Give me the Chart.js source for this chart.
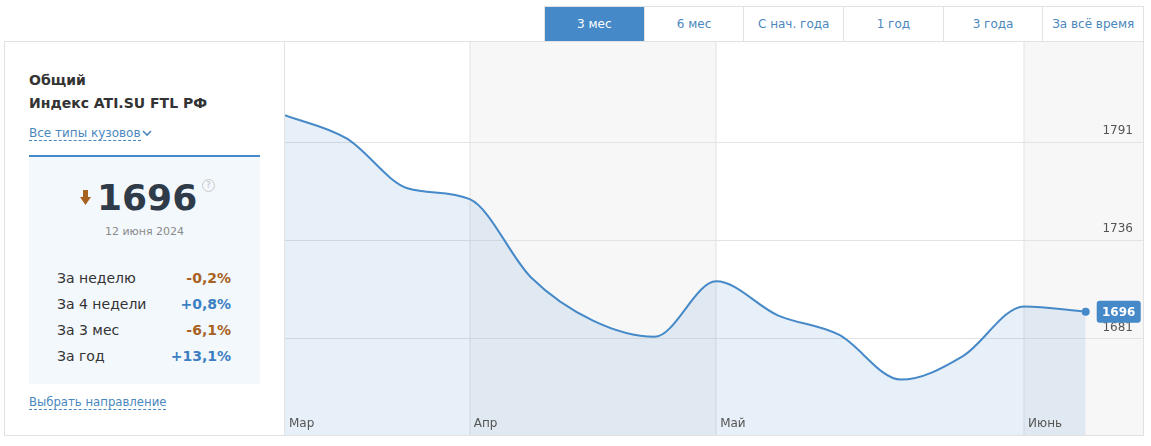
<!DOCTYPE html>
<html lang="ru">
<head>
<meta charset="utf-8">
<script src="https://cdn.jsdelivr.net/npm/chart.js@4"></script>
<style>
  html, body { margin:0; padding:0; background:#fff; font-family:"DejaVu Sans", Verdana, sans-serif; }
  .frame { position:absolute; left:4px; top:41px; width:1140px; height:395px; border:1px solid #e2e2e2; box-sizing:border-box; }
  .panel { position:absolute; left:5px; top:42px; width:280px; height:393px; border-right:1px solid #e2e2e2; box-sizing:border-box; }
  .tabs { position:absolute; left:544px; top:6px; height:35px; display:flex; border:1px solid #e2e2e2; border-bottom:none; box-sizing:border-box; width:600px; }
  .tab { width:100px; height:35px; line-height:34px; text-align:center; font-size:12px; color:#4b87bd; border-right:1px solid #e2e2e2; box-sizing:border-box; }
  .tab:last-child { border-right:none; }
  .tab.active { background:#4689c8; color:#fff; }
  .t1 { position:absolute; left:24px; font-weight:bold; font-size:14px; color:#333; }
  .link { position:absolute; left:24px; font-size:12px; color:#4b87bd; line-height:14px; }
  .link span.u { border-bottom:1px dashed #4b87bd; }
  .box { position:absolute; left:24px; top:113px; width:231px; height:229px; background:#f3f8fd; border-top:2px solid #4689c8; box-sizing:border-box; }
  .big { position:absolute; left:68px; top:19px; font-size:36px; font-weight:bold; color:#2f3b48; line-height:44px; }
  .arrow { position:absolute; left:51px; top:33px; width:11px; height:16px; }
  .q { position:absolute; left:173px; top:22px; width:11px; height:11px; border:1px solid #c8c8c8; border-radius:50%; font-size:9px; color:#bbb; text-align:center; line-height:11px; }
  .date { position:absolute; left:0; width:231px; top:68px; text-align:center; font-size:11px; color:#8a8a8a; }
  .row { position:absolute; left:28px; width:174px; font-size:14px; color:#333; }
  .row b { position:absolute; right:0; top:0; font-weight:bold; }
  .dn { color:#a8621f; }
  .up { color:#3d80c2; }
  #wrap { position:absolute; left:285px; top:42px; width:858px; height:393px; }
</style>
</head>
<body>
<div class="tabs">
  <div class="tab active">3 мес</div>
  <div class="tab">6 мес</div>
  <div class="tab">С нач. года</div>
  <div class="tab">1 год</div>
  <div class="tab">3 года</div>
  <div class="tab">За всё время</div>
</div>
<div class="frame"></div>
<div class="panel">
  <div class="t1" style="top:30px">Общий</div>
  <div class="t1" style="top:53px">Индекс ATI.SU FTL РФ</div>
  <div class="link" style="top:84px"><span class="u">Все типы кузовов</span><svg width="10" height="8" viewBox="0 0 10 8" style="margin-left:1px"><polyline points="1,2 5,6 9,2" fill="none" stroke="#4b87bd" stroke-width="1.6"/></svg></div>
  <div class="box">
    <svg class="arrow" viewBox="0 0 11 16"><rect x="3" y="0" width="5" height="8" fill="#a8621f"/><polygon points="0,7 11,7 5.5,15" fill="#a8621f"/></svg>
    <div class="big">1696</div>
    <div class="q">?</div>
    <div class="date">12 июня 2024</div>
    <div class="row" style="top:113px">За неделю<b class="dn">-0,2%</b></div>
    <div class="row" style="top:139px">За 4 недели<b class="up">+0,8%</b></div>
    <div class="row" style="top:165px">За 3 мес<b class="dn">-6,1%</b></div>
    <div class="row" style="top:191px">За год<b class="up">+13,1%</b></div>
  </div>
  <div class="link" style="top:353px;font-size:11.7px"><span class="u">Выбрать направление</span></div>
</div>
<div id="wrap"><canvas id="chart"></canvas></div>
<script>
// weekly index values, ~1 Mar – 12 Jun 2024
const values = [1806, 1793, 1765, 1759, 1715, 1691, 1682, 1713, 1694, 1683, 1658, 1671, 1699, 1696];
const monthNames = ['Мар', 'Апр', 'Май', 'Июнь'];
const monthStart = [0, 3, 7, 12];   // week index where each month begins
const yTicks = [1681, 1736, 1791];

const blue = '#4689c8';
const lastIdx = values.length - 1;

const monthBands = {
  id: 'monthBands',
  beforeDraw(chart) {
    const {ctx, chartArea: a, scales: {x}} = chart;
    ctx.save();
    monthStart.forEach((m, i) => {
      const x0 = x.getPixelForValue(m);
      const x1 = i + 1 < monthStart.length ? x.getPixelForValue(monthStart[i + 1]) : a.right;
      if (i % 2 === 1) {
        ctx.fillStyle = '#f7f7f7';
        ctx.fillRect(x0, a.top, x1 - x0, a.bottom - a.top);
      }
      if (i > 0) {
        ctx.fillStyle = '#e3e3e3';
        ctx.fillRect(Math.round(x0) - 0.5, a.top, 1, a.bottom - a.top);
      }
    });
    ctx.restore();
  },
  afterDatasetsDraw(chart) {
    const {ctx, chartArea: a, scales: {x, y}} = chart;
    ctx.save();
    ctx.font = '12px "DejaVu Sans"';
    ctx.fillStyle = '#555';
    ctx.textBaseline = 'alphabetic';
    monthStart.forEach((m, i) => {
      ctx.fillText(monthNames[i], x.getPixelForValue(m) + 4, a.bottom - 8);
    });
    // y labels sit above their grid lines, at the right edge
    ctx.textAlign = 'right';
    yTicks.forEach(v => {
      ctx.fillText(String(v), a.right - 10, y.getPixelForValue(v) - 8);
    });
    // last value badge
    const pt = chart.getDatasetMeta(0).data[lastIdx];
    const bx = pt.x + 11, by = pt.y - 11, bw = 44, bh = 22;
    ctx.fillStyle = blue;
    ctx.beginPath();
    ctx.roundRect(bx, by, bw, bh, 3);
    ctx.fill();
    ctx.fillStyle = '#fff';
    ctx.font = 'bold 12px "DejaVu Sans"';
    ctx.textAlign = 'center';
    ctx.textBaseline = 'middle';
    ctx.fillText(String(values[lastIdx]), bx + bw / 2, by + bh / 2 + 1);
    ctx.restore();
  }
};

new Chart(document.getElementById('chart'), {
  type: 'line',
  data: {
    datasets: [{
      data: values.map((v, i) => ({x: i, y: v})),
      borderColor: blue,
      borderWidth: 2,
      backgroundColor: 'rgba(70,137,200,0.13)',
      fill: 'start',
      cubicInterpolationMode: 'monotone',
      pointRadius: values.map((v, i) => i === lastIdx ? 4 : 0),
      pointBackgroundColor: blue,
      pointBorderWidth: 0
    }]
  },
  options: {
    responsive: true,
    maintainAspectRatio: false,
    animation: false,
    layout: { padding: 0, autoPadding: false },
    plugins: { legend: { display: false }, tooltip: { enabled: false } },
    scales: {
      x: { type: 'linear', min: 0, max: 13.93, display: false },
      y: {
        position: 'right',
        min: 1627, max: 1847,
        afterBuildTicks: s => { s.ticks = yTicks.map(v => ({value: v})); },
        border: { display: false },
        grid: { color: '#e3e3e3', drawTicks: false },
        ticks: { display: false }
      }
    }
  },
  plugins: [monthBands]
});
</script>
</body>
</html>
